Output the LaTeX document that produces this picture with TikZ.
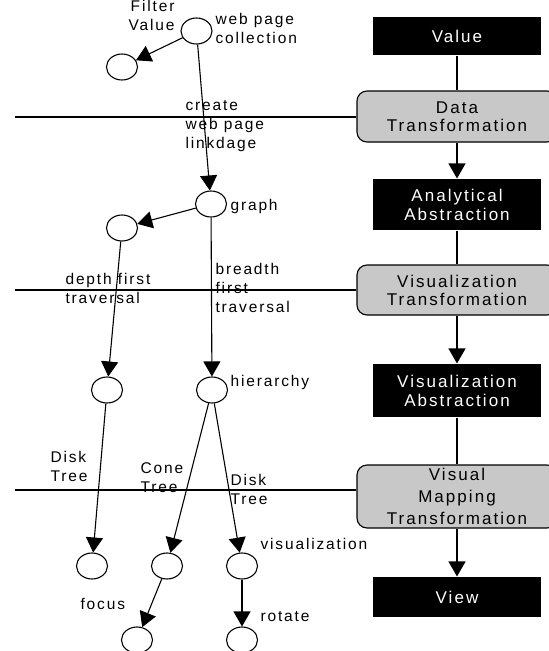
\documentclass[tikz,border=0pt]{standalone}
\usepackage{fontspec}
\setmainfont{Liberation Sans}[LetterSpace=12]
\usetikzlibrary{shapes.geometric,arrows.meta}
\definecolor{boxgray}{RGB}{200,200,200}

\begin{document}
\begin{tikzpicture}[x=1pt,y=-1pt,line width=1.1pt,
  >={Triangle[length=15pt,width=17pt]},
  oval/.style={draw,ellipse,minimum width=31pt,minimum height=26pt,inner sep=0pt},
  stage/.style={fill=black,text=white,minimum width=168pt,inner sep=0pt,align=center,
    font=\fontsize{17}{19}\selectfont},
  proc/.style={draw,fill=boxgray,rounded corners=10pt,minimum width=200pt,inner sep=0pt,
    align=center,font=\fontsize{17}{18}\selectfont},
  lbl/.style={inner sep=0pt,anchor=west,align=left,font=\fontsize{15.5}{19}\selectfont}]
\useasboundingbox (0,0) rectangle (549,651);
% pipeline on the right
\node[stage,minimum height=38pt] (val) at (457,36) {Value};
\node[proc,minimum height=51pt] (dt) at (457,116.5) {Data\\Transformation};
\node[stage,minimum height=51pt] (aa) at (457,204.5) {Analytical\\Abstraction};
\node[proc,minimum height=50pt] (vt) at (457,290) {Visualization\\Transformation};
\node[stage,minimum height=53pt] (va) at (457,390.5) {Visualization\\Abstraction};
\node[proc,minimum height=63pt,font=\fontsize{17}{22}\selectfont] (vmt) at (457,496.5) {Visual\\Mapping\\Transformation};
\node[stage,minimum height=40pt] (view) at (457,597) {View};
\draw (val) -- (dt);
\draw[->] (dt) -- (aa);
\draw (aa) -- (vt);
\draw[->] (vt) -- (va);
\draw (va) -- (vmt);
\draw[->] (vmt) -- (view);
% stage borders
\coordinate (h1) at (15,117);
\coordinate (h2) at (15,290);
\coordinate (h3) at (15,490);
\draw (h1) -- (h1 -| dt.west);
\draw (h2) -- (h2 -| vt.west);
\draw (h3) -- (h3 -| vmt.west);
% operators
\node[oval] (coll) at (196.5,31) {};
\node[oval] (filt) at (122,67) {};
\node[oval] (graph) at (211,204) {};
\node[oval] (gleft) at (122,228) {};
\node[oval] (depth) at (107,390) {};
\node[oval] (hier) at (212,390) {};
\node[oval] (disk) at (92,566) {};
\node[oval] (cone) at (167,566) {};
\node[oval] (disktwo) at (242,566) {};
\node[oval] (focus) at (137,640) {};
\node[oval] (rotate) at (242,640) {};
\draw[->] (coll) -- (filt);
\draw[->] (coll) -- (graph);
\draw[->] (graph) -- (gleft);
\draw[->] (gleft) -- (depth);
\draw[->] (graph) -- (hier);
\draw[->] (depth) -- (disk);
\draw[->] (hier) -- (cone);
\draw[->] (hier) -- (disktwo);
\draw[->] (cone) -- (focus);
\draw[->] (disktwo) -- (rotate);
% labels
\node[lbl,anchor=east,align=right] (lfilt) at (175,15) {Filter\\Value};
\node[lbl] (lcoll) at (215,28.5) {web page\\collection};
\node[lbl] (lcreate) at (185,126) {create\\web page\\linkdage};
\node[lbl] (lgraph) at (230,206) {graph};
\node[lbl] (ldepth) at (65,288.5) {depth first\\traversal};
\node[lbl] (lbreadth) at (215,287.5) {breadth\\first\\traversal};
\node[lbl] (lhier) at (230,382) {hierarchy};
\node[lbl] (ldisk) at (50,466) {Disk\\Tree};
\node[lbl] (lcone) at (140,477.5) {Cone\\Tree};
\node[lbl] (ldisktwo) at (230,489.5) {Disk\\Tree};
\node[lbl] (lvis) at (260,544) {visualization};
\node[lbl] (lfocus) at (80,604) {focus};
\node[lbl] (lrotate) at (260,617) {rotate};
\end{tikzpicture}
\end{document}
